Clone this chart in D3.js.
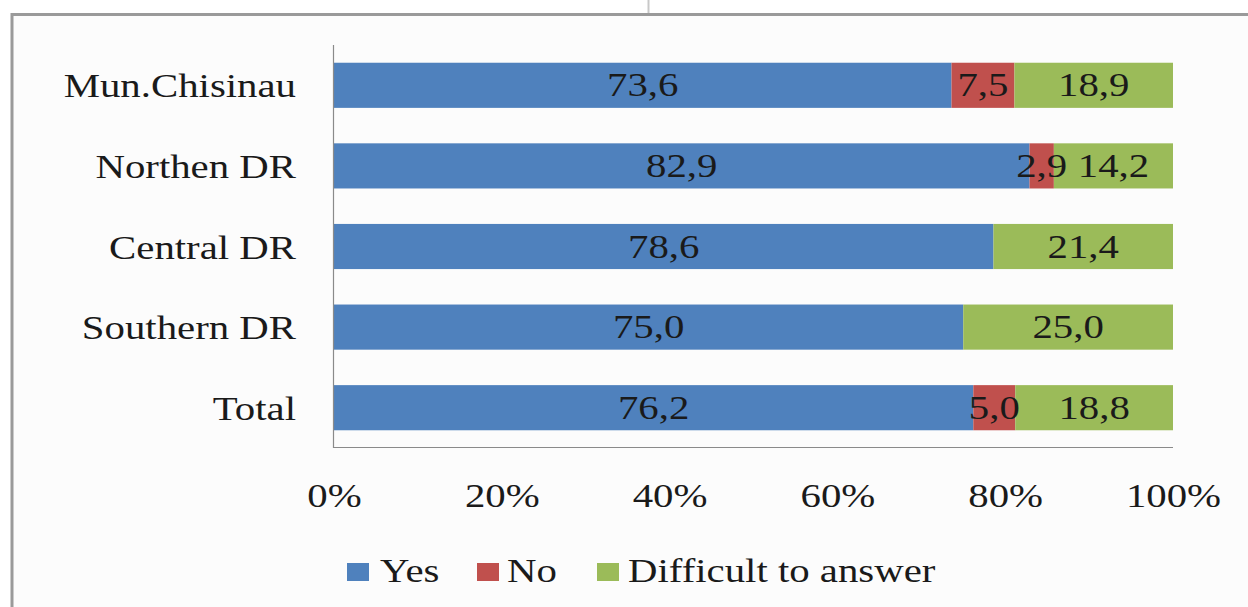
<!DOCTYPE html>
<html>
<head>
<meta charset="utf-8">
<script src="https://cdn.jsdelivr.net/npm/d3@7"></script>
<style>
  html, body { margin: 0; padding: 0; background: #ffffff; }
  svg { display: block; }
  text { font-family: "Liberation Serif", "Times New Roman", serif; fill: #1a1a1a; }
</style>
</head>
<body>
<svg id="chart" width="1248" height="607"></svg>
<script>
// ---- data ----
const categories = ["Mun.Chisinau", "Northen DR", "Central DR", "Southern DR", "Total"];
const seriesNames = ["Yes", "No", "Difficult to answer"];
const yesValues = [73.6, 82.9, 78.6, 75.0, 76.2];
const noValues = [7.5, 2.9, 0, 0, 5.0];
const difficultValues = [18.9, 14.2, 21.4, 25.0, 18.8];
const tickValues = [0, 0.2, 0.4, 0.6, 0.8, 1.0];
const seriesColors = ["#4F81BD", "#C0504D", "#9BBB59"];

// ---- layout ----
const svg = d3.select("#chart");
const W = 1248, H = 607;
const plot = { left: 333, right: 1173, top: 45, bottom: 448 };
const fontSize = 34, stretch = 1.2;

// frame background and borders
svg.append("rect").attr("x", 12).attr("y", 15).attr("width", W - 12).attr("height", H - 15).attr("fill", "#fcfcfc");
svg.append("line").attr("x1", 12).attr("x2", W).attr("y1", 14.5).attr("y2", 14.5).attr("stroke", "#9a9a9a").attr("stroke-width", 3);
svg.append("line").attr("x1", 12).attr("x2", 12).attr("y1", 13).attr("y2", H).attr("stroke", "#9a9a9a").attr("stroke-width", 3);
svg.append("line").attr("x1", 648.5).attr("x2", 648.5).attr("y1", 0).attr("y2", 13).attr("stroke", "#c8c8c8").attr("stroke-width", 2);

const rows = categories.map((c, i) => ({ cat: c, Yes: yesValues[i], No: noValues[i], "Difficult to answer": difficultValues[i] }));
const stack = d3.stack().keys(seriesNames)(rows);

const x = d3.scaleLinear().domain([0, 100]).range([plot.left + 1, plot.right]);
const y = d3.scaleBand().domain(categories).range([plot.top, plot.bottom]).paddingInner(0.44).paddingOuter(0.22);
const color = d3.scaleOrdinal().domain(seriesNames).range(seriesColors);
const fmt = v => d3.format(".1f")(v).replace(".", ",");

// bars
const layers = svg.append("g").selectAll("g").data(stack).join("g").attr("fill", d => color(d.key));
layers.selectAll("rect").data(d => d.filter(s => s[1] - s[0] > 0)).join("rect")
  .attr("x", d => x(d[0]))
  .attr("width", d => x(d[1]) - x(d[0]))
  .attr("y", d => y(d.data.cat))
  .attr("height", y.bandwidth());

// data labels
stack.forEach(layer => {
  layer.forEach(s => {
    const v = s[1] - s[0];
    if (v <= 0) return;
    const cx = (x(s[0]) + x(s[1])) / 2;
    const cy = y(s.data.cat) + y.bandwidth() / 2 + 11;
    svg.append("text")
      .attr("transform", `translate(${cx},${cy}) scale(${stretch},1)`)
      .attr("text-anchor", "middle")
      .attr("font-size", fontSize)
      .attr("fill", "#111")
      .text(fmt(v));
  });
});

// axis lines
svg.append("line").attr("x1", plot.left + 0.5).attr("x2", plot.left + 0.5).attr("y1", plot.top).attr("y2", plot.bottom)
  .attr("stroke", "#8a8a8a").attr("stroke-width", 1.2);
svg.append("line").attr("x1", plot.left).attr("x2", plot.right).attr("y1", plot.bottom - 0.5).attr("y2", plot.bottom - 0.5)
  .attr("stroke", "#8a8a8a").attr("stroke-width", 1.2);

// category labels
categories.forEach(c => {
  svg.append("text")
    .attr("transform", `translate(296,${y(c) + y.bandwidth() / 2 + 12}) scale(${stretch},1)`)
    .attr("text-anchor", "end")
    .attr("font-size", fontSize)
    .text(c);
});

// x tick labels via axis
const xPct = d3.scaleLinear().domain([0, 1]).range([plot.left + 1, plot.right]);
const xAxis = svg.append("g").attr("transform", `translate(0,${plot.bottom})`)
  .call(d3.axisBottom(xPct).tickValues(tickValues).tickFormat(d3.format(".0%")).tickSize(0).tickPadding(0));
xAxis.select(".domain").remove();
xAxis.selectAll("text")
  .attr("font-family", "Liberation Serif, serif")
  .attr("font-size", fontSize)
  .attr("fill", "#1a1a1a")
  .attr("y", 0).attr("dy", null)
  .attr("transform", `translate(0,59) scale(${stretch},1)`);

// legend
const legendX = [347, 477, 597];
const legendTextX = [380, 507, 628];
seriesNames.forEach((name, i) => {
  svg.append("rect").attr("x", legendX[i]).attr("y", 563).attr("width", 22).attr("height", 18).attr("fill", seriesColors[i]);
  svg.append("text")
    .attr("transform", `translate(${legendTextX[i]},582) scale(${stretch},1)`)
    .attr("font-size", fontSize)
    .text(name);
});
</script>
</body>
</html>
